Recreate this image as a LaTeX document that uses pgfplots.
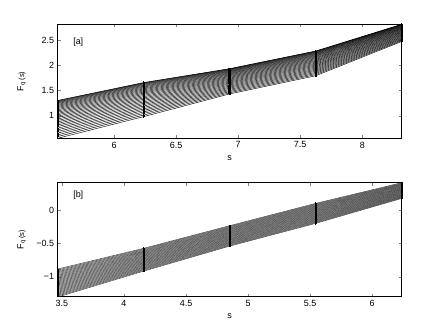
\documentclass[border=0pt]{standalone}
\usepackage{fontspec}
\setmainfont{Liberation Sans}
\usepackage{pgfplots}
\usepackage{pgfplotstable}
\pgfplotsset{compat=1.18}

% one row per scale, one column per q-line
\pgfplotstableread{
x y0 y1 y2 y3 y4 y5 y6 y7 y8 y9 y10 y11 y12 y13 y14 y15 y16 y17 y18 y19 y20 y21 y22 y23 y24 y25 y26 y27 y28 y29 y30
5.545 1.300 1.294 1.283 1.270 1.255 1.239 1.221 1.202 1.182 1.161 1.139 1.116 1.092 1.067 1.042 1.016 0.989 0.961 0.933 0.904 0.875 0.845 0.814 0.783 0.751 0.719 0.686 0.653 0.619 0.585 0.550
6.238 1.655 1.649 1.640 1.628 1.615 1.600 1.584 1.567 1.549 1.530 1.510 1.489 1.468 1.446 1.423 1.399 1.375 1.350 1.325 1.299 1.272 1.245 1.218 1.190 1.161 1.132 1.103 1.073 1.042 1.011 0.980
6.931 1.930 1.926 1.919 1.910 1.900 1.889 1.877 1.865 1.851 1.837 1.823 1.807 1.791 1.775 1.758 1.741 1.723 1.704 1.685 1.666 1.647 1.627 1.606 1.585 1.564 1.543 1.521 1.499 1.476 1.453 1.430
7.625 2.280 2.276 2.269 2.260 2.251 2.240 2.229 2.216 2.203 2.189 2.175 2.160 2.144 2.128 2.111 2.094 2.077 2.059 2.040 2.021 2.002 1.983 1.963 1.942 1.921 1.900 1.879 1.857 1.835 1.813 1.790
8.318 2.810 2.807 2.802 2.796 2.790 2.782 2.774 2.766 2.757 2.747 2.737 2.727 2.716 2.705 2.693 2.681 2.669 2.656 2.644 2.630 2.617 2.604 2.590 2.576 2.561 2.547 2.532 2.517 2.501 2.486 2.470
}\tA

\pgfplotstableread{
x y0 y1 y2 y3 y4 y5 y6 y7 y8 y9 y10 y11 y12 y13 y14 y15 y16 y17 y18 y19 y20 y21 y22 y23 y24 y25 y26 y27 y28 y29 y30
3.466 -0.885 -0.899 -0.913 -0.927 -0.941 -0.955 -0.969 -0.983 -0.997 -1.011 -1.025 -1.039 -1.053 -1.067 -1.081 -1.095 -1.109 -1.123 -1.137 -1.151 -1.165 -1.179 -1.193 -1.207 -1.221 -1.235 -1.249 -1.263 -1.277 -1.291 -1.305
4.159 -0.574 -0.585 -0.597 -0.608 -0.620 -0.631 -0.642 -0.654 -0.665 -0.677 -0.688 -0.699 -0.711 -0.722 -0.734 -0.745 -0.756 -0.768 -0.779 -0.791 -0.802 -0.813 -0.825 -0.836 -0.848 -0.859 -0.870 -0.882 -0.893 -0.905 -0.916
4.852 -0.235 -0.245 -0.255 -0.266 -0.276 -0.286 -0.296 -0.306 -0.317 -0.327 -0.337 -0.347 -0.357 -0.368 -0.378 -0.388 -0.398 -0.408 -0.419 -0.429 -0.439 -0.449 -0.459 -0.470 -0.480 -0.490 -0.500 -0.510 -0.521 -0.531 -0.541
5.545 0.100 0.090 0.080 0.070 0.060 0.050 0.040 0.030 0.020 0.010 0.000 -0.010 -0.020 -0.030 -0.040 -0.050 -0.060 -0.070 -0.080 -0.090 -0.100 -0.110 -0.120 -0.130 -0.140 -0.150 -0.160 -0.170 -0.180 -0.190 -0.200
6.238 0.410 0.402 0.394 0.386 0.379 0.371 0.363 0.355 0.347 0.339 0.331 0.323 0.316 0.308 0.300 0.292 0.284 0.276 0.268 0.261 0.253 0.245 0.237 0.229 0.221 0.213 0.205 0.198 0.190 0.182 0.174
}\tB

\begin{document}
\begin{tikzpicture}
\useasboundingbox (-57.7bp,-194.7bp) rectangle (385.3bp,138.3bp);
\pgfplotsset{
  panel/.style={
    scale only axis, width=344bp, height=114bp,
    tick align=inside, major tick length=3bp,
    font=\fontsize{9}{10}\selectfont,
    /pgf/number format/assume math mode=true,
    axis line style={black, line width=0.5pt},
    every axis x label/.style={at={(axis description cs:0.5,-0.17)}, anchor=center},
    every axis y label/.style={at={(axis description cs:-0.105,0.5)}, rotate=90, anchor=center},
    xlabel={s},
    ylabel={F\textsubscript{q}\,\raisebox{-0.1ex}{\fontsize{7.5}{8}\selectfont(s)}},
  },
  qline/.style={line width=0.45pt, mark=*, mark size=0.65pt, mark options={black, line width=0pt}},
}

\begin{axis}[panel, at={(0,0)}, anchor=south west,
  xmin=5.545, xmax=8.318, ymin=0.55, ymax=2.81,
  xtick={6,6.5,7,7.5,8}, ytick={1,1.5,2,2.5}]
\pgfplotsinvokeforeach{0,...,30}{
  \addplot[qline, black] table[x=x, y=y#1] {\tA};
}
\node[anchor=west] at (rel axis cs:0.035,0.845) {[a]};
\end{axis}

\begin{axis}[panel, at={(0,-158.4bp)}, anchor=south west,
  xmin=3.466, xmax=6.238, ymin=-1.30, ymax=0.41,
  xtick={3.5,4,4.5,5,5.5,6}, ytick={-1,-0.5,0}, yticklabels={−1,−0.5,0}]
\pgfplotsinvokeforeach{0,...,30}{
  \addplot[qline, black!80] table[x=x, y=y#1] {\tB};
}
\node[anchor=west] at (rel axis cs:0.035,0.89) {[b]};
\end{axis}
\end{tikzpicture}
\end{document}
